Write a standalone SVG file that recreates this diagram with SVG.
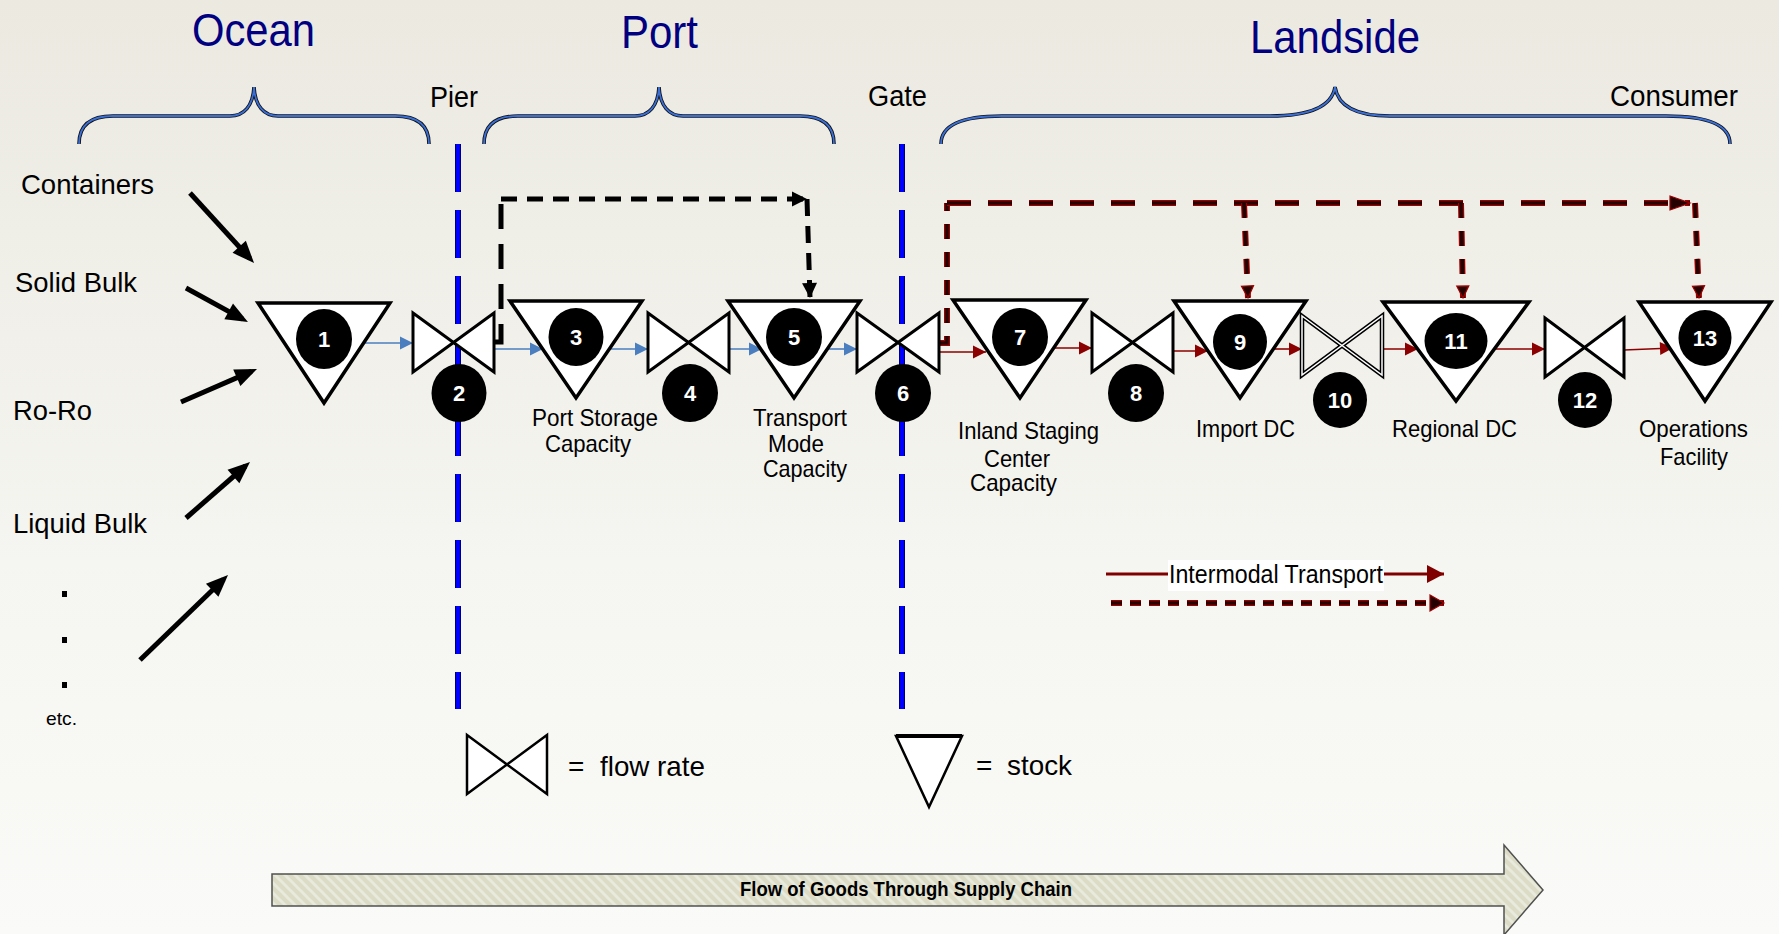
<svg xmlns="http://www.w3.org/2000/svg" width="1779" height="934" viewBox="0 0 1779 934">
<style>
  .t { font-family: "Liberation Sans", Arial, sans-serif; fill: #000; }
  .title { font-size: 47px; fill: #000080; }
  .sec { font-size: 30px; }
  .lbl { font-size: 28px; }
  .cap { font-size: 24px; }
  .num { font-family: "Liberation Sans", Arial, sans-serif; font-size: 22px; font-weight: bold; fill: #fff; text-anchor: middle; }
  .stock { fill: #fff; stroke: #000; stroke-width: 3.5; stroke-linejoin: miter; }
  .flow { fill: #fff; stroke: #000; stroke-width: 3; stroke-linejoin: miter; }
  .disc { fill: #000; }
  .blue { stroke: #4a7ebf; stroke-width: 1.6; fill: none; marker-end: url(#ahBlue); }
  .red { stroke: #8b0000; stroke-width: 1.6; fill: none; marker-end: url(#ahRed); }
  .input { stroke: #000; stroke-width: 5; fill: none; marker-end: url(#ahBig); }
  .bd { stroke: #000; stroke-width: 5; fill: none; }
  .rdo { stroke: #a00000; stroke-width: 6; fill: none; }
  .rdi { stroke: #250000; stroke-width: 3.6; fill: none; }
  .braceO { stroke: #111; stroke-width: 3.6; fill: none; }
  .braceI { stroke: #3a6fd8; stroke-width: 1.8; fill: none; }
  .bndO { stroke: #00006a; stroke-width: 6; fill: none; stroke-dasharray: 48 18; }
  .bndI { stroke: #0000ff; stroke-width: 4; fill: none; stroke-dasharray: 48 18; }
</style>
<defs>
  <linearGradient id="bg" x1="0" y1="0" x2="0" y2="1">
    <stop offset="0" stop-color="#ebe9e0"/>
    <stop offset="0.6" stop-color="#f5f5f1"/>
    <stop offset="1" stop-color="#fafaf8"/>
  </linearGradient>
  <pattern id="hatch" patternUnits="userSpaceOnUse" width="10" height="10">
    <rect width="10" height="10" fill="#dcdcc6"/>
    <path d="M0,0 L10,10 M-5,5 L5,15 M5,-5 L15,5" stroke="#e9e9dc" stroke-width="3"/>
  </pattern>
  <marker id="ahBlue" markerUnits="userSpaceOnUse" markerWidth="14" markerHeight="14" refX="13" refY="6.5" orient="auto" overflow="visible">
    <path d="M0,0 L13,6.5 L0,13 Z" fill="#4a7ebf"/>
  </marker>
  <marker id="ahRed" markerUnits="userSpaceOnUse" markerWidth="14" markerHeight="14" refX="13" refY="6.5" orient="auto" overflow="visible">
    <path d="M0,0 L13,6.5 L0,13 Z" fill="#8b0000"/>
  </marker>
  <marker id="ahBig" markerUnits="userSpaceOnUse" markerWidth="22" markerHeight="18" refX="16" refY="9" orient="auto" overflow="visible">
    <path d="M0,0 L22,9 L0,18 Z" fill="#000"/>
  </marker>
  <marker id="ahBlk" markerUnits="userSpaceOnUse" markerWidth="15" markerHeight="15" refX="15" refY="7.5" orient="auto" overflow="visible">
    <path d="M0,0 L15,7.5 L0,15 Z" fill="#000"/>
  </marker>
  <marker id="ahRD" markerUnits="userSpaceOnUse" markerWidth="20" markerHeight="14" refX="20" refY="7" orient="auto" overflow="visible">
    <path d="M0,0 L20,7 L0,14 Z" fill="#250000" stroke="#a00000" stroke-width="1.2"/>
  </marker>
  <marker id="ahRDs" markerUnits="userSpaceOnUse" markerWidth="12" markerHeight="12" refX="12" refY="6" orient="auto" overflow="visible">
    <path d="M0,0 L12,6 L0,12 Z" fill="#250000" stroke="#a00000" stroke-width="1.2"/>
  </marker>
  <marker id="ahLeg" markerUnits="userSpaceOnUse" markerWidth="17" markerHeight="18" refX="17" refY="9" orient="auto" overflow="visible">
    <path d="M0,0 L17,9 L0,18 Z" fill="#800000"/>
  </marker>
  <marker id="ahLegD" markerUnits="userSpaceOnUse" markerWidth="14" markerHeight="16" refX="14" refY="8" orient="auto" overflow="visible">
    <path d="M0,0 L14,8 L0,16 Z" fill="#250000" stroke="#a00000" stroke-width="1.2"/>
  </marker>
</defs>

<!-- background -->
<rect x="0" y="0" width="1779" height="934" fill="url(#bg)"/>

<!-- section titles -->
<g id="titles">
  <text class="t title" x="192" y="46" textLength="123" lengthAdjust="spacingAndGlyphs">Ocean</text>
  <text class="t title" x="621" y="48" textLength="77" lengthAdjust="spacingAndGlyphs">Port</text>
  <text class="t title" x="1250" y="53" textLength="170" lengthAdjust="spacingAndGlyphs">Landside</text>
  <text class="t sec" x="430" y="107" textLength="48" lengthAdjust="spacingAndGlyphs">Pier</text>
  <text class="t sec" x="868" y="106" textLength="59" lengthAdjust="spacingAndGlyphs">Gate</text>
  <text class="t sec" x="1610" y="106" textLength="128" lengthAdjust="spacingAndGlyphs">Consumer</text>
</g>

<!-- curly braces over each section -->
<g id="braces">
  <path class="braceO" d="M79,144 C79,126 90,116 113,116 L230,116 C244,116 253,106 254,87 C255,106 264,116 278,116 L395,116 C418,116 429,126 429,144"/>
  <path class="braceI" d="M79,144 C79,126 90,116 113,116 L230,116 C244,116 253,106 254,87 C255,106 264,116 278,116 L395,116 C418,116 429,126 429,144"/>
  <path class="braceO" d="M484,144 C484,126 495,116 518,116 L635,116 C649,116 658,106 659,87 C660,106 669,116 683,116 L800,116 C823,116 834,126 834,144"/>
  <path class="braceI" d="M484,144 C484,126 495,116 518,116 L635,116 C649,116 658,106 659,87 C660,106 669,116 683,116 L800,116 C823,116 834,126 834,144"/>
  <path class="braceO" d="M941,144 C941,126 960,116 1002,116 L1270,116 C1310,116 1332,106 1335,87 C1338,106 1355,116 1390,116 L1666,116 C1710,116 1730,126 1730,144"/>
  <path class="braceI" d="M941,144 C941,126 960,116 1002,116 L1270,116 C1310,116 1332,106 1335,87 C1338,106 1355,116 1390,116 L1666,116 C1710,116 1730,126 1730,144"/>
</g>

<!-- pier and gate boundaries -->
<g id="boundaries">
  <line class="bndO" x1="458" y1="144" x2="458" y2="709"/>
  <line class="bndI" x1="458" y1="144" x2="458" y2="709"/>
  <line class="bndO" x1="902" y1="144" x2="902" y2="709"/>
  <line class="bndI" x1="902" y1="144" x2="902" y2="709"/>
</g>

<!-- cargo types -->
<g id="cargo">
  <text class="t lbl" x="21" y="194" textLength="133" lengthAdjust="spacingAndGlyphs">Containers</text>
  <text class="t lbl" x="15" y="292" textLength="122" lengthAdjust="spacingAndGlyphs">Solid Bulk</text>
  <text class="t lbl" x="13" y="420" textLength="79" lengthAdjust="spacingAndGlyphs">Ro-Ro</text>
  <text class="t lbl" x="13" y="533" textLength="134" lengthAdjust="spacingAndGlyphs">Liquid Bulk</text>
  <rect x="62" y="591" width="5" height="6" fill="#000"/>
  <rect x="62" y="637" width="5" height="6" fill="#000"/>
  <rect x="62" y="682" width="5" height="6" fill="#000"/>
  <text class="t" style="font-size:19px" x="46" y="725" textLength="31" lengthAdjust="spacingAndGlyphs">etc.</text>
</g>

<!-- connectors -->
<g id="connectors">
  <path class="input" d="M190,193 L250,258.6"/>
  <path class="input" d="M186,288 L242.7,319.1"/>
  <path class="input" d="M181,402 L251.5,371.4"/>
  <path class="input" d="M186,518 L245.5,466"/>
  <path class="input" d="M140,660 L223.7,579.2"/>

  <path class="blue" d="M365,343 H413"/>
  <path class="blue" d="M494,349 H543"/>
  <path class="blue" d="M608,349 H648"/>
  <path class="blue" d="M729,349 H762"/>
  <path class="blue" d="M827,349 H857"/>

  <path class="red" d="M939,352 H986"/>
  <path class="red" d="M1053,348 H1092"/>
  <path class="red" d="M1173,351 H1208"/>
  <path class="red" d="M1274,349 H1302"/>
  <path class="red" d="M1382,349 H1418"/>
  <path class="red" d="M1494,349 H1545"/>
  <path class="red" d="M1624,350 L1673,348"/>

  <!-- port bypass (black dashed) -->
  <path class="bd" d="M494,342 H501 V199" stroke-dasharray="25 15"/>
  <path class="bd" d="M501,199 H807" stroke-dasharray="16 10" marker-end="url(#ahBlk)"/>
  <path class="bd" d="M807,199 L810,298" stroke-dasharray="17 10" marker-end="url(#ahBlk)"/>

  <!-- landside intermodal (red dashed) -->
  <path class="rdo" d="M939,343 H947 V203" stroke-dasharray="15 13"/>
  <path class="rdi" d="M939,343 H947 V203" stroke-dasharray="15 13"/>
  <path class="rdo" d="M947,203 H1690" stroke-dasharray="24 17"/>
  <path class="rdi" d="M947,203 H1690" stroke-dasharray="24 17" marker-end="url(#ahRD)"/>
  <path class="rdo" d="M1244,203 L1248,298" stroke-dasharray="15 13"/>
  <path class="rdi" d="M1244,203 L1248,298" stroke-dasharray="15 13" marker-end="url(#ahRDs)"/>
  <path class="rdo" d="M1461,203 L1463,298" stroke-dasharray="15 13"/>
  <path class="rdi" d="M1461,203 L1463,298" stroke-dasharray="15 13" marker-end="url(#ahRDs)"/>
  <path class="rdo" d="M1695,203 L1699,298" stroke-dasharray="15 13"/>
  <path class="rdi" d="M1695,203 L1699,298" stroke-dasharray="15 13" marker-end="url(#ahRDs)"/>
</g>

<!-- stocks and flows -->
<g id="node1">
  <polygon class="stock" points="258,303 390,303 324,403"/>
  <ellipse class="disc" cx="324" cy="339" rx="28" ry="30"/>
  <text class="num" x="324" y="347">1</text>
</g>
<g id="node2">
  <path class="flow" d="M413,313 L494,372 L494,313 L413,372 Z"/>
  <ellipse class="disc" cx="459" cy="393" rx="27.5" ry="29"/>
  <text class="num" x="459" y="401">2</text>
</g>
<g id="node3">
  <polygon class="stock" points="510,301 642,301 576,398"/>
  <ellipse class="disc" cx="576" cy="337" rx="27.5" ry="29"/>
  <text class="num" x="576" y="345">3</text>
  <text class="t cap" x="532" y="426" textLength="126" lengthAdjust="spacingAndGlyphs">Port Storage</text>
  <text class="t cap" x="545" y="452" textLength="86" lengthAdjust="spacingAndGlyphs">Capacity</text>
</g>
<g id="node4">
  <path class="flow" d="M648,313 L729,372 L729,313 L648,372 Z"/>
  <ellipse class="disc" cx="690" cy="393" rx="28" ry="29"/>
  <text class="num" x="690" y="401">4</text>
</g>
<g id="node5">
  <polygon class="stock" points="728,301 860,301 794,398"/>
  <ellipse class="disc" cx="794" cy="337" rx="28" ry="29"/>
  <text class="num" x="794" y="345">5</text>
  <text class="t cap" x="753" y="426" textLength="94" lengthAdjust="spacingAndGlyphs">Transport</text>
  <text class="t cap" x="768" y="452" textLength="56" lengthAdjust="spacingAndGlyphs">Mode</text>
  <text class="t cap" x="763" y="477" textLength="84" lengthAdjust="spacingAndGlyphs">Capacity</text>
</g>
<g id="node6">
  <path class="flow" d="M857,313 L939,372 L939,313 L857,372 Z"/>
  <ellipse class="disc" cx="903" cy="393" rx="28" ry="29"/>
  <text class="num" x="903" y="401">6</text>
</g>
<g id="node7">
  <polygon class="stock" points="953,300 1086,300 1020,398"/>
  <ellipse class="disc" cx="1020" cy="337" rx="28" ry="29"/>
  <text class="num" x="1020" y="345">7</text>
  <text class="t cap" x="958" y="439" textLength="141" lengthAdjust="spacingAndGlyphs">Inland Staging</text>
  <text class="t cap" x="984" y="467" textLength="66" lengthAdjust="spacingAndGlyphs">Center</text>
  <text class="t cap" x="970" y="491" textLength="87" lengthAdjust="spacingAndGlyphs">Capacity</text>
</g>
<g id="node8">
  <path class="flow" d="M1092,313 L1173,372 L1173,313 L1092,372 Z"/>
  <ellipse class="disc" cx="1136" cy="393" rx="28" ry="29"/>
  <text class="num" x="1136" y="401">8</text>
</g>
<g id="node9">
  <polygon class="stock" points="1174,301 1306,301 1240,398"/>
  <ellipse class="disc" cx="1240" cy="342" rx="27" ry="28"/>
  <text class="num" x="1240" y="350">9</text>
  <text class="t cap" x="1196" y="437" textLength="99" lengthAdjust="spacingAndGlyphs">Import DC</text>
</g>
<g id="node10">
  <path d="M1302,316 L1382,375 L1382,316 L1302,375 Z" fill="none" stroke="#000" stroke-width="4.5" stroke-linejoin="miter"/>
  <path d="M1302,316 L1382,375 L1382,316 L1302,375 Z" fill="none" stroke="#fff" stroke-width="1.5" stroke-linejoin="miter"/>
  <ellipse class="disc" cx="1340" cy="400" rx="27" ry="28"/>
  <text class="num" x="1340" y="408">10</text>
</g>
<g id="node11">
  <polygon class="stock" points="1383,302 1529,302 1456,401"/>
  <ellipse class="disc" cx="1456" cy="341" rx="31.5" ry="28"/>
  <text class="num" x="1456" y="349">11</text>
  <text class="t cap" x="1392" y="437" textLength="125" lengthAdjust="spacingAndGlyphs">Regional DC</text>
</g>
<g id="node12">
  <path class="flow" d="M1545,318 L1624,377 L1624,318 L1545,377 Z"/>
  <ellipse class="disc" cx="1585" cy="400" rx="27" ry="28"/>
  <text class="num" x="1585" y="408">12</text>
</g>
<g id="node13">
  <polygon class="stock" points="1639,302 1771,302 1705,401"/>
  <ellipse class="disc" cx="1705" cy="338" rx="26.5" ry="28"/>
  <text class="num" x="1705" y="346">13</text>
  <text class="t cap" x="1639" y="437" textLength="109" lengthAdjust="spacingAndGlyphs">Operations</text>
  <text class="t cap" x="1660" y="465" textLength="68" lengthAdjust="spacingAndGlyphs">Facility</text>
</g>

<!-- legend -->
<g id="legend-transport">
  <path d="M1106,574 H1444" stroke="#800000" stroke-width="3" fill="none" marker-end="url(#ahLeg)"/>
  <rect x="1168" y="560" width="216" height="31" fill="#fff"/>
  <text class="t" style="font-size:25px" x="1169" y="583" textLength="214" lengthAdjust="spacingAndGlyphs">Intermodal Transport</text>
  <path class="rdo" d="M1111,603 H1444" stroke-width="5" stroke-dasharray="11 8"/>
  <path class="rdi" d="M1111,603 H1444" stroke-width="3" stroke-dasharray="11 8" marker-end="url(#ahLegD)"/>
</g>
<g id="legend-flow">
  <path d="M467,735 L547,794 L547,735 L467,794 Z" fill="#fff" stroke="#000" stroke-width="2.5"/>
  <text class="t lbl" x="568" y="776">=</text>
  <text class="t lbl" x="600" y="776" textLength="105" lengthAdjust="spacingAndGlyphs">flow rate</text>
</g>
<g id="legend-stock">
  <polygon points="896,736 962,736 929,807" fill="#fff" stroke="#000" stroke-width="2.5"/>
  <line x1="896" y1="736" x2="962" y2="736" stroke="#000" stroke-width="4"/>
  <text class="t lbl" x="976" y="775">=</text>
  <text class="t lbl" x="1007" y="775" textLength="65" lengthAdjust="spacingAndGlyphs">stock</text>
</g>

<!-- overall direction arrow -->
<g id="flow-arrow">
  <polygon points="272,874 1504,874 1504,845 1543,890 1504,935 1504,906 272,906" fill="url(#hatch)" stroke="#505050" stroke-width="1.5"/>
  <text class="t" style="font-size:20px;font-weight:bold" x="740" y="896" textLength="332" lengthAdjust="spacingAndGlyphs">Flow of Goods Through Supply Chain</text>
</g>
</svg>
